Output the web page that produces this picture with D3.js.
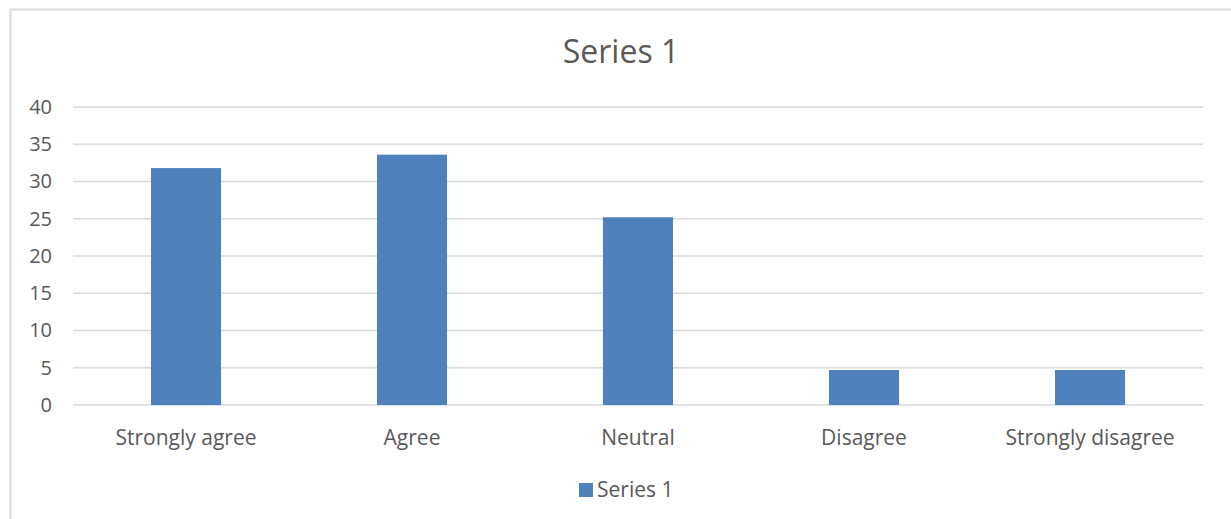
<!DOCTYPE html>
<html>
<head>
<meta charset="utf-8">
<script src="https://cdn.jsdelivr.net/npm/d3@7"></script>
<style>
  html, body { margin: 0; padding: 0; background: #ffffff; }
  svg { display: block; }
  text { font-family: "Open Sans", "Liberation Sans", sans-serif; fill: #595959; }
</style>
</head>
<body>
<svg id="chart" width="1231" height="519"></svg>
<script>
// Survey responses (percent)
const categories = ["Strongly agree", "Agree", "Neutral", "Disagree", "Strongly disagree"];
const seriesName = "Series 1";
const seriesValues = [31.8, 33.6, 25.2, 4.7, 4.7];
const yTicks = [0, 5, 10, 15, 20, 25, 30, 35, 40];

const barColor = "#4f81bd";
const gridColor = "#d9d9d9";

const svg = d3.select("#chart");

// chart area border
svg.append("rect")
  .attr("x", 10.5).attr("y", 9.5)
  .attr("width", 1400).attr("height", 700)
  .attr("fill", "#ffffff")
  .attr("stroke", gridColor)
  .attr("stroke-width", 2);

const plot = { left: 73, right: 1203, top: 107, bottom: 405 };

const x = d3.scaleBand()
  .domain(categories)
  .range([plot.left, plot.right])
  .paddingInner(0.69)
  .paddingOuter(0.345);

const y = d3.scaleLinear()
  .domain([0, 40])
  .range([plot.bottom, plot.top]);

// horizontal gridlines
svg.append("g")
  .selectAll("line")
  .data(yTicks)
  .join("line")
  .attr("x1", plot.left).attr("x2", plot.right)
  .attr("y1", d => y(d)).attr("y2", d => y(d))
  .attr("stroke", gridColor)
  .attr("stroke-width", 1.4);

// y axis labels
const yAxis = d3.axisLeft(y).tickValues(yTicks).tickSize(0).tickPadding(0);
const yg = svg.append("g")
  .attr("transform", `translate(${plot.left - 21},0)`)
  .call(yAxis);
yg.select(".domain").remove();
yg.selectAll("text")
  .attr("font-size", 20)
  .attr("font-family", "'Open Sans', 'Liberation Sans', sans-serif")
  .attr("fill", "#595959");

// bars
svg.append("g")
  .selectAll("rect")
  .data(categories.map((c, i) => ({ c, v: seriesValues[i] })))
  .join("rect")
  .attr("x", d => x(d.c))
  .attr("width", x.bandwidth())
  .attr("y", d => y(d.v))
  .attr("height", d => y(0) - y(d.v))
  .attr("fill", barColor);

// x axis labels
const xAxis = d3.axisBottom(x).tickSize(0).tickPadding(0);
const xg = svg.append("g")
  .attr("transform", `translate(0,${plot.bottom + 25})`)
  .call(xAxis);
xg.select(".domain").remove();
xg.selectAll("text")
  .attr("font-size", 21)
  .attr("font-family", "'Open Sans', 'Liberation Sans', sans-serif")
  .attr("fill", "#595959");

// title
svg.append("text")
  .attr("x", 621)
  .attr("y", 63)
  .attr("text-anchor", "middle")
  .attr("font-size", 32)
  .text(seriesName);

// legend
const legend = svg.append("g");
legend.append("rect")
  .attr("x", 579).attr("y", 483)
  .attr("width", 14).attr("height", 14)
  .attr("fill", barColor);
legend.append("text")
  .attr("x", 597).attr("y", 497)
  .attr("font-size", 21)
  .text(seriesName);
</script>
</body>
</html>
